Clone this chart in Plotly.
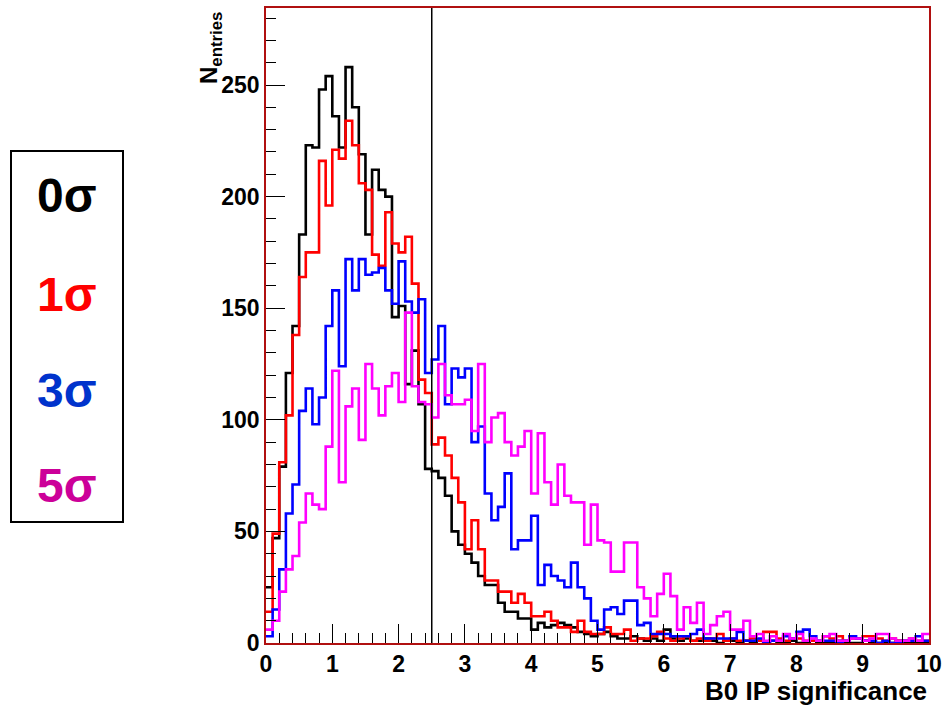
import plotly.graph_objects as go

# ---------------- data ----------------
x_min, x_max, n_bins = 0.0, 10.0, 100
cut_value = 2.5

sig0 = [25, 47, 79, 121, 142, 183, 223, 222, 248, 254,
        236, 222, 258, 240, 219, 183, 212, 203, 200, 146,
        151, 116, 131, 107, 78, 77, 74, 66, 50, 44,
        40, 36, 30, 26, 26, 18, 14, 14, 11, 11,
        6, 9, 7, 8, 9, 8, 7, 5, 4, 3,
        4, 5, 3, 2, 2, 3, 2, 1, 2, 1,
        6, 2, 1, 2, 1, 1, 2, 1, 0, 1,
        1, 0, 1, 0, 1, 0, 1, 0, 0, 1,
        0, 0, 1, 0, 0, 0, 1, 0, 0, 0,
        1, 0, 0, 0, 0, 1, 0, 0, 0, 0]

sig1 = [14, 49, 81, 102, 138, 164, 175, 175, 216, 196,
        221, 217, 234, 223, 206, 203, 174, 169, 193, 179,
        175, 182, 161, 118, 112, 89, 92, 84, 74, 63,
        42, 55, 42, 28, 28, 23, 23, 18, 22, 18,
        12, 12, 14, 10, 7, 7, 5, 10, 5, 4,
        4, 7, 4, 4, 6, 1, 2, 2, 3, 5,
        2, 1, 2, 3, 1, 2, 1, 2, 4, 1,
        2, 1, 1, 2, 1, 5, 5, 2, 1, 2,
        2, 1, 1, 1, 3, 2, 3, 1, 2, 2,
        3, 3, 2, 1, 2, 1, 1, 2, 1, 1]

sig3 = [3, 15, 33, 58, 71, 104, 114, 98, 110, 142,
        158, 124, 172, 158, 172, 165, 166, 168, 158, 152,
        171, 153, 148, 154, 121, 127, 142, 107, 123, 119,
        123, 90, 97, 67, 55, 61, 76, 42, 46, 46,
        57, 26, 35, 30, 28, 25, 36, 25, 20, 10,
        6, 15, 16, 13, 19, 19, 8, 9, 4, 4,
        4, 3, 3, 3, 4, 6, 2, 2, 2, 2,
        2, 5, 1, 1, 2, 0, 1, 1, 3, 2,
        5, 6, 3, 1, 1, 1, 0, 1, 3, 2,
        1, 1, 0, 1, 0, 0, 1, 1, 3, 1]

sig5 = [6, 10, 23, 33, 39, 54, 67, 62, 60, 88,
        122, 72, 106, 114, 91, 125, 114, 102, 115, 121,
        108, 148, 115, 108, 107, 101, 125, 111, 107, 107,
        109, 95, 125, 90, 101, 103, 90, 84, 88, 95,
        67, 94, 72, 62, 80, 66, 63, 63, 44, 62,
        46, 45, 32, 32, 45, 45, 25, 20, 12, 22,
        31, 21, 6, 16, 9, 18, 4, 8, 12, 14,
        6, 6, 10, 3, 4, 1, 3, 1, 4, 2,
        4, 1, 2, 1, 3, 4, 1, 1, 2, 2,
        1, 2, 4, 4, 2, 1, 1, 2, 1, 4]

series_values = [sig0, sig1, sig3, sig5]
series_names = ["0σ", "1σ", "3σ", "5σ"]
line_colors = ["#000000", "#ff0000", "#0000ff", "#ff00ff"]
label_colors = ["#000000", "#ff0000", "#0033cc", "#cc0099"]

x_tick_vals = list(range(0, 11))
y_tick_vals = [0, 50, 100, 150, 200, 250]
y_max = 284.5

x_title = "B0 IP significance"
y_title = "N<sub>entries</sub>"

# ---------------- figure ----------------
W, H = 943, 709
L, R, T, B = 266, 14, 8, 66
pw, ph = W - L - R, H - T - B

def px_to_paper_x(px):
    return (px - L) / pw

def py_to_paper_y(py):
    return (H - B - py) / ph

bw = (x_max - x_min) / n_bins
edges = [x_min + i * bw for i in range(n_bins + 1)]

fig = go.Figure()
for vals, name, col in zip(series_values, series_names, line_colors):
    fig.add_trace(go.Scatter(
        x=edges, y=list(vals) + [vals[-1]],
        mode="lines", line=dict(color=col, width=2.6, shape="hv"),
        name=name, showlegend=False, hoverinfo="skip"))

fig.add_shape(type="line", xref="x", yref="paper", x0=cut_value, x1=cut_value,
              y0=0, y1=1, line=dict(color="black", width=1.5))

frame_col = "#b01010"
font_family = "Liberation Sans, Arial, sans-serif"
tick_font = dict(family=font_family, size=23, color="black", weight="bold")

fig.update_xaxes(range=[x_min, x_max], tickvals=x_tick_vals, automargin=False,
                 ticks="inside", ticklen=19, tickwidth=1, tickcolor="black",
                 minor=dict(ticks="inside", ticklen=10, dtick=0.2,
                            tickcolor="black", tickwidth=1, showgrid=False),
                 showline=True, linecolor=frame_col, linewidth=1.5, mirror=True,
                 showgrid=False, zeroline=False, tickfont=tick_font)
fig.update_yaxes(range=[0, y_max], tickvals=y_tick_vals, automargin=False,
                 ticks="inside", ticklen=19, tickwidth=1, tickcolor="black",
                 minor=dict(ticks="inside", ticklen=10, dtick=10,
                            tickcolor="black", tickwidth=1, showgrid=False),
                 showline=True, linecolor=frame_col, linewidth=1.5, mirror=True,
                 showgrid=False, zeroline=False, tickfont=tick_font)

annotations = [
    dict(text=x_title, xref="paper", yref="paper", x=px_to_paper_x(929),
         xanchor="right", y=py_to_paper_y(691), yanchor="middle", showarrow=False,
         font=dict(family=font_family, size=26, color="black", weight="bold")),
    dict(text=y_title, xref="paper", yref="paper", x=px_to_paper_x(210),
         xanchor="center", y=py_to_paper_y(48), yanchor="middle",
         textangle=-90, showarrow=False,
         font=dict(family=font_family, size=24, color="black", weight="bold")),
]

label_y_px = [195, 295, 390, 485]
for name, col, ypx in zip(series_names, label_colors, label_y_px):
    annotations.append(dict(
        text=name, xref="paper", yref="paper",
        x=px_to_paper_x(67), xanchor="center", y=py_to_paper_y(ypx),
        yanchor="middle", showarrow=False,
        font=dict(family=font_family, size=48, color=col, weight="bold")))

fig.add_shape(type="rect", xref="paper", yref="paper",
              x0=px_to_paper_x(11), x1=px_to_paper_x(123),
              y0=py_to_paper_y(522), y1=py_to_paper_y(151),
              line=dict(color="black", width=2), fillcolor="rgba(0,0,0,0)")

fig.update_layout(width=W, height=H, margin=dict(l=L, r=R, t=T, b=B, autoexpand=False),
                  paper_bgcolor="white", plot_bgcolor="white",
                  annotations=annotations, showlegend=False)

fig.write_html("out.html")
